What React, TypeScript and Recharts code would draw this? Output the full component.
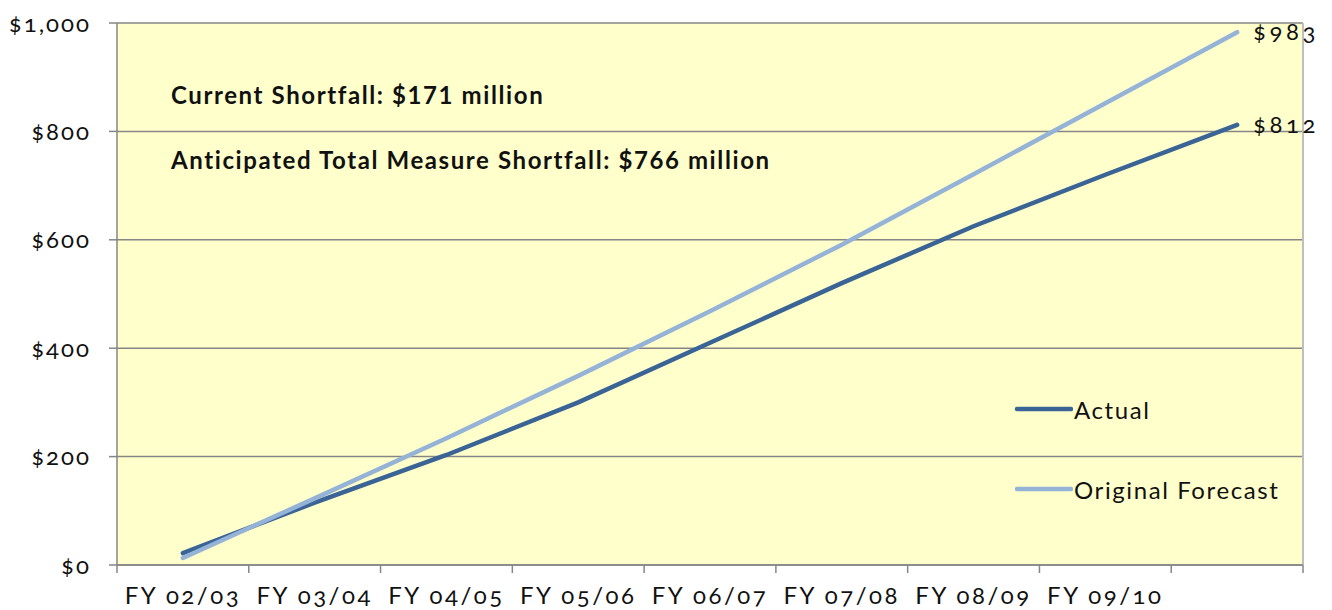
import { LineChart, Line, XAxis, YAxis, CartesianGrid, LabelList, ReferenceLine } from 'recharts';

const categories = ['FY 02/03', 'FY 03/04', 'FY 04/05', 'FY 05/06', 'FY 06/07', 'FY 07/08', 'FY 08/09', 'FY 09/10', ''];
const actual = [22, 115, 203, 300, 410, 520, 625, 720, 812];
const forecast = [13, 123, 234, 349, 468, 591, 721, 852, 983];
const yTicks = [0, 200, 400, 600, 800, 1000];

const notes = ['Current Shortfall: $171 million', 'Anticipated Total Measure Shortfall: $766 million'];

const series = [
  { key: 'actual', name: 'Actual', color: '#3B6496' },
  { key: 'forecast', name: 'Original Forecast', color: '#95B3D7' },
];

const data = categories.map((label, i) => ({
  pos: i + 0.5,
  label,
  actual: actual[i],
  forecast: forecast[i],
}));

// ticks at category boundaries (marks) and centres (labels)
const xTicks = categories.flatMap((_, i) => [i, i + 0.5]).concat([categories.length]);

const FONT = 'Lato, "DejaVu Sans", sans-serif';
const GRID = '#868686';

const money = (v: number) => '$' + v.toLocaleString('en-US');

function XTick(props: any) {
  const { x, y, payload } = props;
  const v = payload.value as number;
  if (Number.isInteger(v)) {
    return <line x1={x} x2={x} y1={y} y2={y + 8} stroke={GRID} strokeWidth={1.5} />;
  }
  return (
    <text
      x={x}
      y={y + 39}
      textAnchor="middle"
      fill="#111"
      fontSize={24}
      fontFamily={FONT}
      letterSpacing={2.5}
      style={{ fontVariantNumeric: 'oldstyle-nums' }}
    >
      {categories[Math.floor(v)]}
    </text>
  );
}

function EndLabel(props: any) {
  const { x, y, index, value } = props;
  if (index !== categories.length - 1) return null;
  return (
    <text
      x={x + 16}
      y={y + 8}
      fill="#111"
      fontSize={24}
      fontFamily={FONT}
      letterSpacing={3.5}
      style={{ fontVariantNumeric: 'oldstyle-nums' }}
    >
      {money(value)}
    </text>
  );
}

export default function App() {
  return (
    <div style={{ position: 'relative', width: 1316, height: 602 }}>
      <LineChart width={1316} height={602} data={data} margin={{ top: 15, right: 21, bottom: 2, left: 0 }}>
        <CartesianGrid vertical={false} stroke={GRID} strokeWidth={1.5} fill="#FFFFCC" />
        <XAxis
          dataKey="pos"
          type="number"
          domain={[0, categories.length]}
          ticks={xTicks}
          interval={0}
          height={43}
          tickSize={0}
          tickMargin={0}
          tickLine={false}
          axisLine={{ stroke: GRID, strokeWidth: 1.5 }}
          tick={<XTick />}
        />
        <YAxis
          domain={[0, 1000]}
          ticks={yTicks}
          width={109}
          tickSize={8}
          tickMargin={18}
          tickFormatter={money}
          axisLine={{ stroke: GRID, strokeWidth: 1.5 }}
          tickLine={{ stroke: GRID, strokeWidth: 1.5 }}
          tick={{ fill: '#111', fontSize: 24, fontFamily: FONT, letterSpacing: 2, style: { fontVariantNumeric: 'oldstyle-nums' } } as any}
        />
        <ReferenceLine x={categories.length} stroke="#BFBFBF" strokeWidth={2} />
        {series.map((s) => (
          <Line
            key={s.key}
            dataKey={s.key}
            name={s.name}
            stroke={s.color}
            strokeWidth={4.5}
            dot={false}
            strokeLinecap="round"
            isAnimationActive={false}
          >
            <LabelList dataKey={s.key} content={<EndLabel />} />
          </Line>
        ))}
      </LineChart>
      {notes.map((t, i) => (
        <div
          key={t}
          style={{
            position: 'absolute',
            left: 163,
            top: 72 + i * 65,
            fontFamily: FONT,
            fontWeight: 700,
            fontSize: 24,
            color: '#111',
            letterSpacing: 1.6,
            whiteSpace: 'nowrap',
          }}
        >
          {t}
        </div>
      ))}
      {series.map((s, i) => (
        <div
          key={s.key}
          style={{ position: 'absolute', left: 1005, top: 389 + i * 80, display: 'flex', alignItems: 'center', height: 24 }}
        >
          <svg width={60} height={10}>
            <line x1={4} x2={58} y1={5} y2={5} stroke={s.color} strokeWidth={4.5} strokeLinecap="round" />
          </svg>
          <span style={{ fontFamily: FONT, fontSize: 24, color: '#111', marginLeft: 1, letterSpacing: 1.6, whiteSpace: 'nowrap' }}>
            {s.name}
          </span>
        </div>
      ))}
    </div>
  );
}
